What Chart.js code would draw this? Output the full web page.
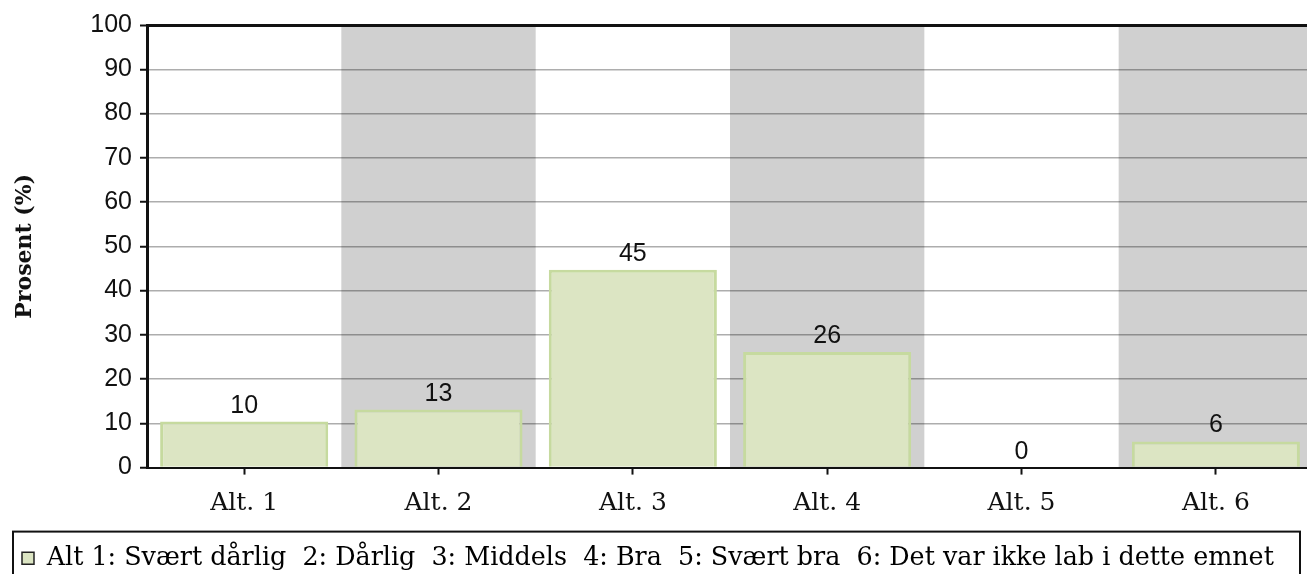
<!DOCTYPE html>
<html>
<head>
<meta charset="utf-8">
<script src="https://cdn.jsdelivr.net/npm/chart.js@4.4.1/dist/chart.umd.min.js"></script>
<style>
  html, body { margin: 0; padding: 0; background: #fff; overflow: hidden; }
  /* plot area runs a few px past the right window edge, as in the reference */
  #wrap { width: 1313px; height: 581px; position: relative; }
</style>
</head>
<body>
<div id="wrap"><canvas id="chart"></canvas></div>
<script>
// values
const categories = ['Alt. 1', 'Alt. 2', 'Alt. 3', 'Alt. 4', 'Alt. 5', 'Alt. 6'];
const percent = [10.4, 13.1, 44.7, 26.1, 0, 5.9];
const yTicks = [0, 10, 20, 30, 40, 50, 60, 70, 80, 90, 100];
const legendText = 'Alt 1: Svært dårlig  2: Dårlig  3: Middels  4: Bra  5: Svært bra  6: Det var ikke lab i dette emnet';

const C = {
  fill: '#dce5c3',
  edge: '#c6da9f',
  band: '#d0d0d0',
  grid: 'rgba(0,0,0,0.32)',
  ink: '#111',
};
const SERIF = '"DejaVu Serif", serif';
const SANS = '"Liberation Sans", Arial, sans-serif';

// grey background band behind every second category
const bands = {
  id: 'bands',
  beforeDraw(chart) {
    const { ctx, chartArea: a, scales: { x } } = chart;
    const w = (a.right - a.left) / categories.length;
    ctx.save();
    ctx.fillStyle = C.band;
    categories.forEach((c, i) => {
      if (i % 2 === 1) {
        const cx = x.getPixelForValue(i);
        ctx.fillRect(cx - w / 2, a.top, w, a.bottom - a.top);
      }
    });
    ctx.restore();
  },
};

// value above each bar
const valueLabels = {
  id: 'valueLabels',
  afterDatasetsDraw(chart) {
    const { ctx } = chart;
    const meta = chart.getDatasetMeta(0);
    ctx.save();
    ctx.font = '25px ' + SANS;
    ctx.fillStyle = C.ink;
    ctx.textAlign = 'center';
    ctx.textBaseline = 'alphabetic';
    meta.data.forEach((bar, i) => {
      ctx.fillText(String(Math.round(percent[i])), bar.x, bar.y - 9);
    });
    ctx.restore();
  },
};

// frame round the legend (its bottom runs off the page)
const legendFrame = {
  id: 'legendFrame',
  afterDraw(chart) {
    const l = chart.legend;
    if (!l) return;
    const ctx = chart.ctx;
    ctx.save();
    ctx.strokeStyle = C.ink;
    ctx.lineWidth = 2;
    ctx.strokeRect(l.left + 1, l.top - 4, l.width - 14, l.height + 20);
    ctx.restore();
  },
};

new Chart(document.getElementById('chart'), {
  type: 'bar',
  data: {
    labels: categories,
    datasets: [{
      label: legendText,
      data: percent,
      backgroundColor: C.fill,
      borderColor: C.edge,
      borderWidth: 3,
      categoryPercentage: 0.865,
      barPercentage: 1,
    }],
  },
  options: {
    responsive: true,
    maintainAspectRatio: false,
    animation: false,
    layout: { padding: { left: 12, right: 0, top: 25, bottom: 0 } },
    scales: {
      x: {
        afterFit: (s) => { s.height = 68; },
        grid: {
          offset: false,
          drawOnChartArea: false,
          drawTicks: true,
          tickLength: 7,
          tickColor: C.ink,
          tickWidth: 2,
        },
        border: { color: C.ink, width: 2 },
        ticks: { color: C.ink, font: { family: SERIF, size: 25 }, padding: 14 },
      },
      y: {
        min: 0,
        max: 100,
        afterFit: (s) => { s.width = 135; },
        afterBuildTicks: (s) => { s.ticks = yTicks.map((v) => ({ value: v })); },
        grid: {
          color: (ctx) => (ctx.tick && ctx.tick.value === 100 ? C.ink : C.grid),
          lineWidth: (ctx) => (ctx.tick && ctx.tick.value === 100 ? 3 : 1.5),
          tickLength: 7,
          tickColor: C.ink,
          tickWidth: 2,
        },
        border: { color: C.ink, width: 3 },
        ticks: { color: C.ink, font: { family: SANS, size: 25 }, padding: 8 },
        title: {
          display: true,
          text: 'Prosent (%)',
          color: C.ink,
          font: { family: SERIF, size: 22, weight: 'bold' },
          padding: { top: 0, bottom: 0 },
        },
      },
    },
    plugins: {
      tooltip: { enabled: false },
      legend: {
        position: 'bottom',
        align: 'start',
        labels: {
          color: C.ink,
          font: { family: SERIF, size: 25.4 },
          boxWidth: 12,
          boxHeight: 12,
          padding: 10,
          generateLabels: () => [{
            text: legendText,
            fillStyle: C.fill,
            strokeStyle: '#222',
            lineWidth: 1.5,
            datasetIndex: 0,
          }],
        },
      },
    },
  },
  plugins: [bands, valueLabels, legendFrame],
});
</script>
</body>
</html>
